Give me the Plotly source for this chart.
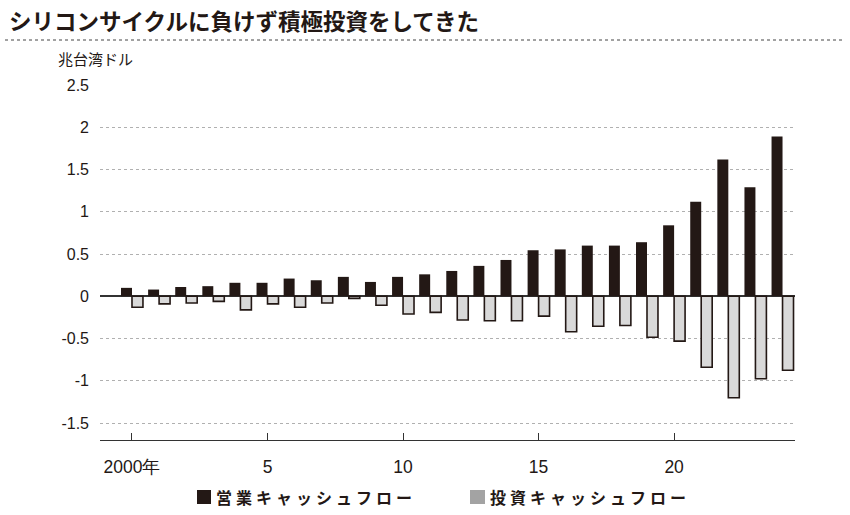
import plotly.graph_objects as go

years = list(range(2000, 2025))
operating_cf = [0.10, 0.08, 0.11, 0.12, 0.16, 0.16, 0.21, 0.19, 0.23, 0.17,
                0.23, 0.26, 0.30, 0.36, 0.43, 0.545, 0.555, 0.60, 0.60, 0.64,
                0.84, 1.12, 1.62, 1.29, 1.89]
investing_cf = [-0.13, -0.09, -0.08, -0.06, -0.16, -0.09, -0.13, -0.08, -0.025, -0.105,
                -0.21, -0.19, -0.28, -0.29, -0.29, -0.235, -0.42, -0.355, -0.345, -0.485,
                -0.53, -0.84, -1.20, -0.975, -0.875]
ytick_vals = [2.5, 2, 1.5, 1, 0.5, 0, -0.5, -1, -1.5]
ytick_text = ["2.5", "2", "1.5", "1", "0.5", "0", "-0.5", "-1", "-1.5"]
xtick_vals = [2000, 2005, 2010, 2015, 2020]
xtick_text = ["2000年", "5", "10", "15", "20"]
series_names = ["営業キャッシュフロー", "投資キャッシュフロー"]
title_text = "シリコンサイクルに負けず積極投資をしてきた"
unit_text = "兆台湾ドル"

BLACK = "#231815"
GREY_FILL = "#d9d9d9"
GREY_LEG = "#a3a3a3"
FONT = "Noto Sans CJK JP"

W, H = 850, 515
L, R, T, B = 100, 55, 85, 75
pw, ph = W - L - R, H - T - B


def px(x):
    return (x - L) / pw


def py(y):
    return (H - B - y) / ph


def spaced(s):
    return "\u2005".join(s)


fig = go.Figure()
fig.add_trace(go.Bar(x=years, y=operating_cf, name=series_names[0],
                     marker=dict(color=BLACK, line=dict(color=BLACK, width=0)),
                     showlegend=False))
fig.add_trace(go.Bar(x=years, y=investing_cf, name=series_names[1],
                     marker=dict(color=GREY_FILL, line=dict(color=BLACK, width=1.6)),
                     showlegend=False))

shapes = [
    dict(type="line", xref="paper", yref="paper", x0=px(5), x1=px(845), y0=py(40), y1=py(40),
         line=dict(color="#444444", width=1, dash="3px,3px")),
    dict(type="rect", xref="paper", yref="paper", x0=px(197), x1=px(211), y0=py(504), y1=py(490),
         fillcolor=BLACK, line=dict(width=0)),
    dict(type="rect", xref="paper", yref="paper", x0=px(470), x1=px(485), y0=py(504), y1=py(490),
         fillcolor=GREY_LEG, line=dict(width=0)),
]

annotations = [
    dict(text="<b>" + title_text + "</b>", xref="paper", yref="paper", x=px(7), y=py(20),
         xanchor="left", yanchor="middle", showarrow=False,
         font=dict(family=FONT, size=22.5, color=BLACK)),
    dict(text=unit_text, xref="paper", yref="paper", x=px(56), y=py(58),
         xanchor="left", yanchor="middle", showarrow=False,
         font=dict(family=FONT, size=15, color=BLACK)),
    dict(text="<b>" + spaced(series_names[0]) + "</b>", xref="paper", yref="paper", x=px(214), y=py(497),
         xanchor="left", yanchor="middle", showarrow=False,
         font=dict(family=FONT, size=16, color=BLACK)),
    dict(text="<b>" + spaced(series_names[1]) + "</b>", xref="paper", yref="paper", x=px(488), y=py(497),
         xanchor="left", yanchor="middle", showarrow=False,
         font=dict(family=FONT, size=16, color=BLACK)),
]

fig.update_layout(
    width=W, height=H,
    margin=dict(l=L, r=R, t=T, b=B, autoexpand=False),
    paper_bgcolor="white", plot_bgcolor="white",
    barmode="group", bargap=0.19, bargroupgap=0,
    shapes=shapes, annotations=annotations,
    font=dict(family="Liberation Sans", size=16, color=BLACK),
)
fig.update_xaxes(
    range=[1998.82, 2024.46], tickvals=xtick_vals, ticktext=xtick_text,
    ticks="inside", ticklen=7, tickwidth=1, tickcolor="#333333",
    showline=True, linecolor="#333333", linewidth=1.2, showgrid=False, zeroline=False,
    ticklabelstandoff=11,
    tickfont=dict(family="Liberation Sans", size=17.5, color=BLACK),
)
fig.update_yaxes(
    range=[-1.7, 2.5], tickvals=ytick_vals, ticktext=ytick_text,
    showgrid=True, gridcolor="#b0b0b0", griddash="dot", gridwidth=1,
    zeroline=True, zerolinecolor="#333333", zerolinewidth=1.5,
    showline=False, ticks="", ticklabelstandoff=10,
    tickfont=dict(family="Liberation Sans", size=16, color=BLACK),
)

fig.write_html("out.html")
